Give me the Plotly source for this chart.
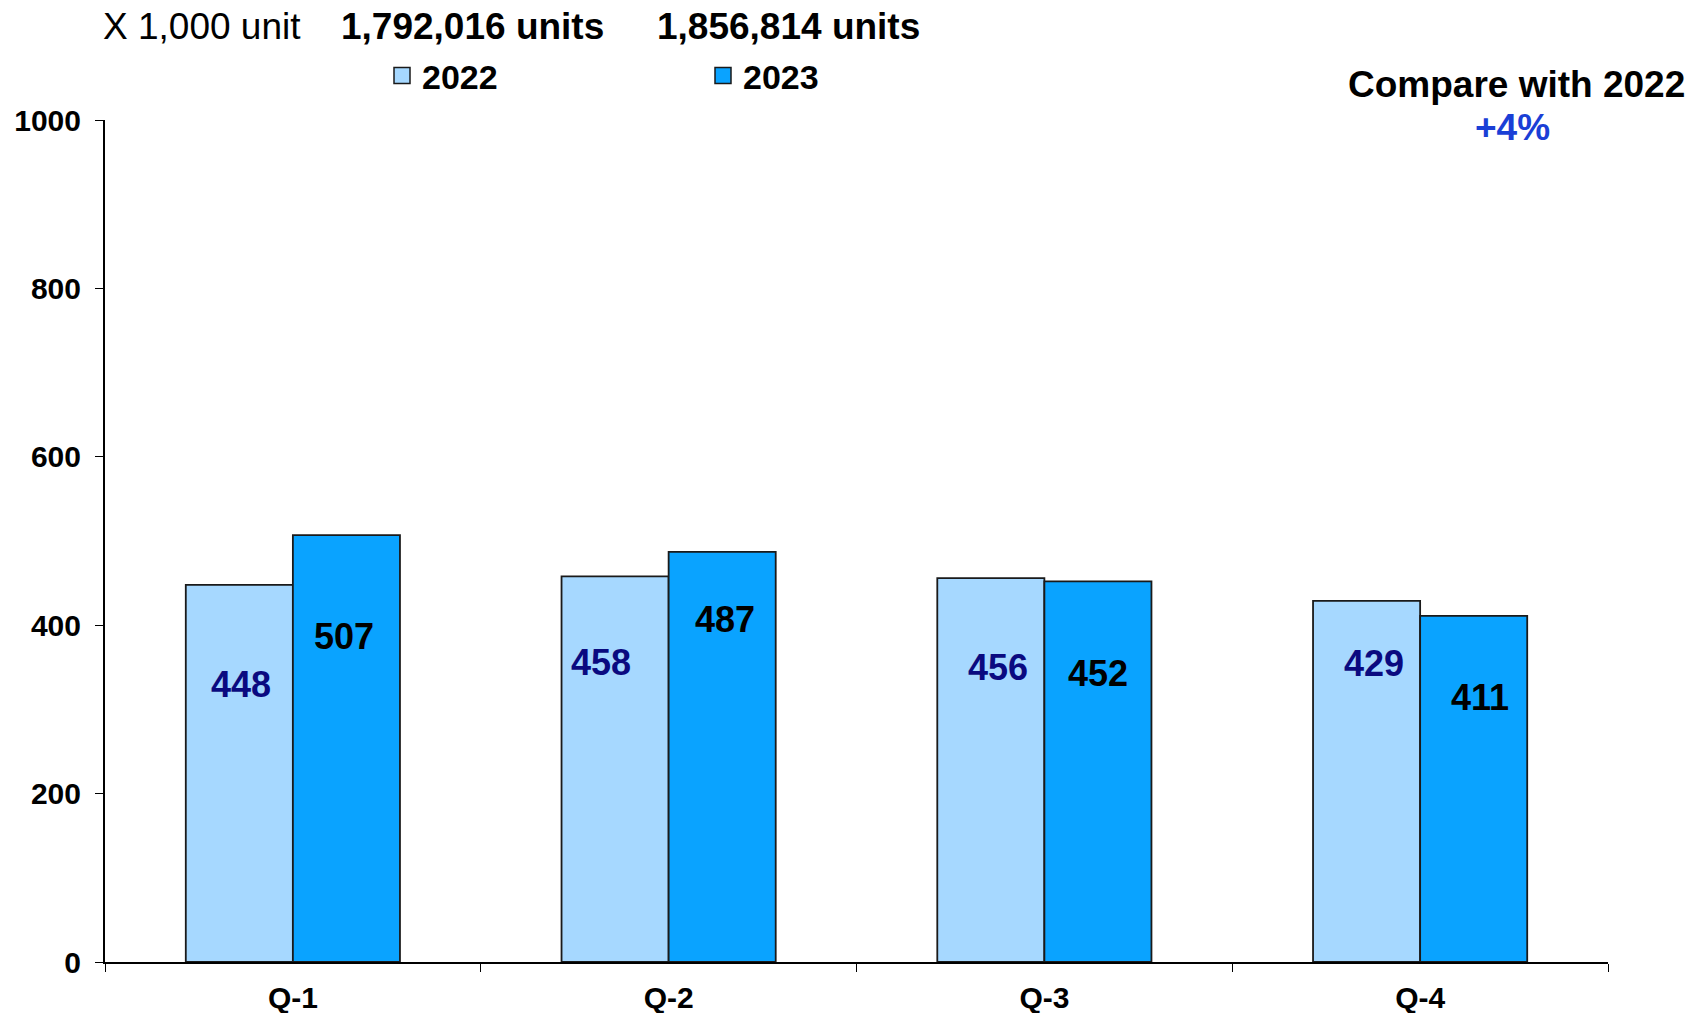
import plotly.graph_objects as go

# ---- data ----
quarters = ["Q-1", "Q-2", "Q-3", "Q-4"]
sales_2022 = [448, 458, 456, 429]
sales_2023 = [507, 487, 452, 411]
series_names = ["2022", "2023"]
total_2022 = "1,792,016 units"
total_2023 = "1,856,814 units"
unit_note = "X 1,000 unit"
compare_title = "Compare with 2022"
compare_value = "+4%"
y_ticks = [0, 200, 400, 600, 800, 1000]

# ---- styling / layout helpers (positions of the value labels inside bars) ----
label_y_2022 = [329, 356, 350, 355]
label_y_2023 = [387, 407, 343, 314]
label_dx_2022 = [-52, -68, -46, -46]
label_dx_2023 = [51, 56, 54, 60]

FONT = "Liberation Sans, Arial, sans-serif"
LIGHT = "#A6D8FF"
DARK = "#0AA3FF"
EDGE = "#1a1a1a"

W, H = 1696, 1013
L, R, T, B = 105, 1696 - 1608, 120, 1013 - 962
pw, ph = W - L - R, H - T - B


def px(x):
    return (x - L) / pw


def py(y):
    return 1 - (y - T) / ph


fig = go.Figure()
fig.add_trace(go.Bar(x=quarters, y=sales_2022, name=series_names[0], showlegend=False,
                     marker=dict(color=LIGHT, line=dict(color=EDGE, width=1.8))))
fig.add_trace(go.Bar(x=quarters, y=sales_2023, name=series_names[1], showlegend=False,
                     marker=dict(color=DARK, line=dict(color=EDGE, width=1.8))))
# legend entries (larger square swatches)
for nm, col in zip(series_names, [LIGHT, DARK]):
    fig.add_trace(go.Scatter(x=[None], y=[None], mode="markers", name=f"<b>{nm}</b>",
                             marker=dict(symbol="square", size=16, color=col,
                                         line=dict(color=EDGE, width=1.5))))

annotations = []
for q, v, ly, dx in zip(quarters, sales_2022, label_y_2022, label_dx_2022):
    annotations.append(dict(x=q, y=ly, xref="x", yref="y", text=f"<b>{v}</b>",
                            showarrow=False, xshift=dx,
                            font=dict(family=FONT, size=36, color="#0A0A80")))
for q, v, ly, dx in zip(quarters, sales_2023, label_y_2023, label_dx_2023):
    annotations.append(dict(x=q, y=ly, xref="x", yref="y", text=f"<b>{v}</b>",
                            showarrow=False, xshift=dx,
                            font=dict(family=FONT, size=36, color="#000000")))

annotations += [
    dict(x=px(202), y=py(26), xref="paper", yref="paper", text=unit_note, showarrow=False,
         xanchor="center", yanchor="middle", font=dict(family=FONT, size=37, color="#000")),
    dict(x=px(472), y=py(26), xref="paper", yref="paper", text=f"<b>{total_2022}</b>", showarrow=False,
         xanchor="center", yanchor="middle", font=dict(family=FONT, size=37, color="#000")),
    dict(x=px(788), y=py(26), xref="paper", yref="paper", text=f"<b>{total_2023}</b>", showarrow=False,
         xanchor="center", yanchor="middle", font=dict(family=FONT, size=37, color="#000")),
    dict(x=px(1516), y=py(84), xref="paper", yref="paper", text=f"<b>{compare_title}</b>", showarrow=False,
         xanchor="center", yanchor="middle", font=dict(family=FONT, size=37, color="#000")),
    dict(x=px(1512), y=py(127), xref="paper", yref="paper", text=f"<b>{compare_value}</b>", showarrow=False,
         xanchor="center", yanchor="middle", font=dict(family=FONT, size=37, color="#1A3FD6")),
]

fig.update_layout(
    width=W, height=H,
    margin=dict(l=L, r=R, t=T, b=B, autoexpand=False),
    paper_bgcolor="white", plot_bgcolor="white",
    barmode="group", bargap=0.43, bargroupgap=0,
    font=dict(family=FONT, color="#000"),
    showlegend=True,
    legend=dict(orientation="h", x=px(382), y=py(76), xanchor="left", yanchor="middle",
                entrywidth=276, entrywidthmode="pixels",
                font=dict(family=FONT, size=34, color="#000"),
                itemwidth=30, bgcolor="rgba(0,0,0,0)", traceorder="normal"),
    annotations=annotations,
    xaxis=dict(type="category", showline=True, linecolor="#000", linewidth=2,
               ticks="outside", tickson="boundaries", ticklen=8, tickcolor="#000", tickwidth=1,
               tickfont=dict(family=FONT, size=30, color="#000"),
               tickvals=quarters, ticktext=[f"<b>{q}</b>" for q in quarters],
               ticklabelstandoff=8, showgrid=False, zeroline=False),
    yaxis=dict(range=[0, 1000], showline=True, linecolor="#000", linewidth=2,
               ticks="outside", ticklen=8, tickcolor="#000", tickwidth=1,
               tickvals=y_ticks, ticktext=[f"<b>{t}</b>" for t in y_ticks],
               tickfont=dict(family=FONT, size=30, color="#000"),
               ticklabelstandoff=8, showgrid=False, zeroline=False),
)

fig.write_html("out.html",
               config={"displayModeBar": False},
               post_script="document.body.style.margin='0px';document.body.style.overflow='hidden';")
